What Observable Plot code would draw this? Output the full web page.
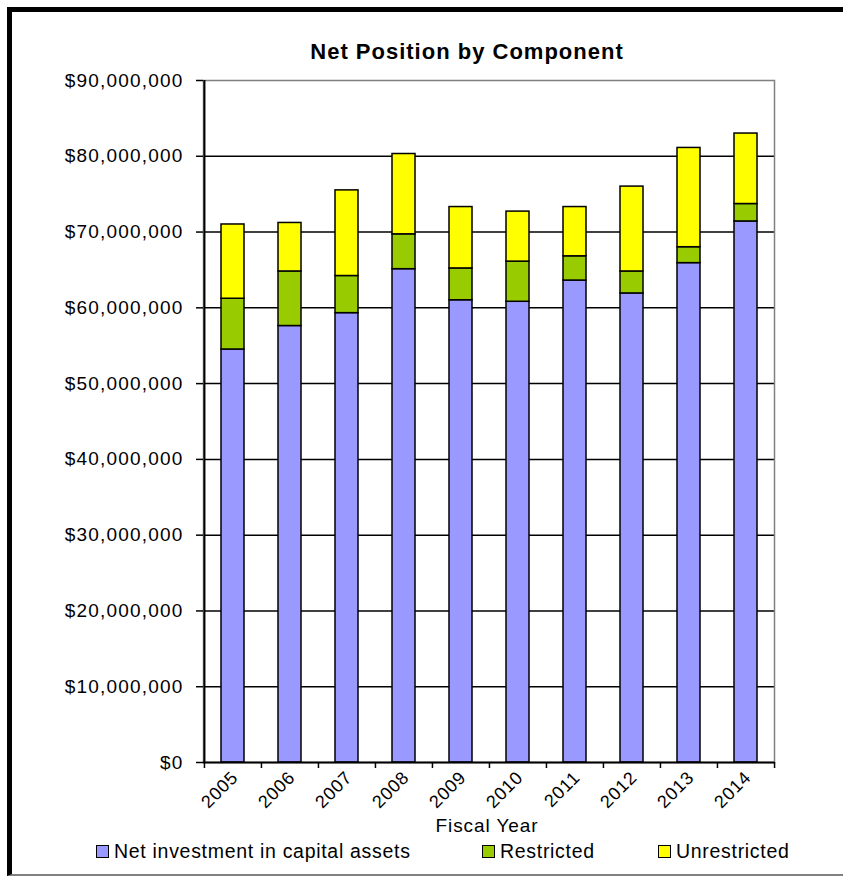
<!DOCTYPE html>
<html>
<head>
<meta charset="utf-8">
<script src="https://cdn.jsdelivr.net/npm/d3@7"></script>
<script src="https://cdn.jsdelivr.net/npm/@observablehq/plot@0.6"></script>
<style>
  html, body { margin: 0; padding: 0; background: #fff; overflow: hidden; width: 843px; height: 876px; }
  body { font-family: "Liberation Sans", Arial, sans-serif; color: #000; position: relative; }
  #frame { position: absolute; left: 7px; top: 7px; width: 900px; height: 869px; box-sizing: border-box;
           border-left: 5px solid #000; border-top: 5px solid #000; border-bottom: 2px solid #808080; }
  #title { position: absolute; left: 0; width: 934px; top: 39px; text-align: center; font-weight: bold;
           font-size: 22px; letter-spacing: 1px; }
  #chart { position: absolute; left: 0; top: 60px; }
  #chart g[aria-label="y-axis tick label"] { font-size: 19px; letter-spacing: 1.2px; }
  #chart g[aria-label="x-axis tick label"] { font-size: 18px; letter-spacing: 0.8px; }
  #xlabel { position: absolute; left: 0; width: 974px; top: 815px; text-align: center; font-size: 19px; letter-spacing: 0.9px; }
  .item { position: absolute; top: 840px; display: flex; align-items: center; font-size: 19.5px; letter-spacing: 0.7px; }
  .sw { width: 11px; height: 11px; border: 1.5px solid #000; margin-right: 5px; }
</style>
</head>
<body>
<div id="frame"></div>
<div id="title">Net Position by Component</div>
<div id="chart"></div>
<div id="xlabel">Fiscal Year</div>
<div id="legend"></div>
<script>
// ---- data ----
const years = ["2005", "2006", "2007", "2008", "2009", "2010", "2011", "2012", "2013", "2014"];
const components = ["Net investment in capital assets", "Restricted", "Unrestricted"];
const colors = ["#9999FF", "#99CC00", "#FFFF00"];
const netInvestment = [54.5e6, 57.6e6, 59.3e6, 65.1e6, 61.0e6, 60.8e6, 63.6e6, 61.9e6, 65.9e6, 71.4e6];
const restricted    = [6.7e6, 7.2e6, 4.9e6, 4.6e6, 4.2e6, 5.3e6, 3.2e6, 2.9e6, 2.1e6, 2.3e6];
const unrestricted  = [9.8e6, 6.4e6, 11.3e6, 10.6e6, 8.1e6, 6.6e6, 6.5e6, 11.2e6, 13.1e6, 9.3e6];
const yTicks = [0, 10e6, 20e6, 30e6, 40e6, 50e6, 60e6, 70e6, 80e6, 90e6];
const legendLeft = [96, 482, 658];

// ---- build table ----
const series = [netInvestment, restricted, unrestricted];
const rows = [];
years.forEach((yr, i) => {
  components.forEach((c, k) => rows.push({year: yr, component: c, value: series[k][i]}));
});

// ---- layout ----
const W = 843, H = 780, ML = 203, MR = 69, MT = 20, MB = 78;
const plotW = W - ML - MR, plotH = H - MT - MB;
const padIn = 0.6, padOut = 0.3;
const step = plotW / (years.length - padIn + 2 * padOut);
const fmt = d => "$" + d3.format(",")(d);

const chart = Plot.plot({
  width: W, height: H,
  marginLeft: ML, marginRight: MR, marginTop: MT, marginBottom: MB,
  style: {fontFamily: "'Liberation Sans', Arial, sans-serif", color: "#000", background: "transparent", overflow: "visible"},
  x: {type: "band", domain: years, paddingInner: padIn, paddingOuter: padOut, label: null},
  y: {domain: [0, 90e6], label: null},
  color: {domain: components, range: colors},
  marks: [
    Plot.gridY({ticks: yTicks.slice(1, -1), stroke: "#000", strokeOpacity: 1, strokeWidth: 1.5}),
    Plot.frame({stroke: "#808080", strokeWidth: 1.5}),
    Plot.barY(rows, {x: "year", y: "value", fill: "component", stroke: "#000", strokeWidth: 1.5}),
    Plot.ruleY([0], {stroke: "#000", strokeWidth: 2}),
    Plot.ruleX([years[0]], {x: d => d, dx: -step / 2, stroke: "#000", strokeWidth: 2}),
    Plot.ruleX(years, {x: d => d, dx: -step / 2, insetTop: plotH, insetBottom: -6, stroke: "#000", strokeWidth: 1.5}),
    Plot.ruleX([years[years.length - 1]], {x: d => d, dx: step / 2, insetTop: plotH, insetBottom: -6, stroke: "#000", strokeWidth: 1.5}),
    Plot.axisY({ticks: yTicks, tickFormat: fmt, tickSize: 7, tickPadding: 13, fontSize: 19, stroke: "#000", strokeWidth: 1.5, label: null}),
    Plot.axisX({tickSize: 0, tickRotate: -45, tickPadding: 12, dx: 2, fontSize: 18, label: null})
  ]
});
document.getElementById("chart").appendChild(chart);

// ---- legend ----
const legend = document.getElementById("legend");
components.forEach((c, k) => {
  const item = document.createElement("div");
  item.className = "item";
  item.style.left = legendLeft[k] + "px";
  const sw = document.createElement("div");
  sw.className = "sw";
  sw.style.background = colors[k];
  const t = document.createElement("span");
  t.textContent = c;
  item.appendChild(sw);
  item.appendChild(t);
  legend.appendChild(item);
});
</script>
</body>
</html>
